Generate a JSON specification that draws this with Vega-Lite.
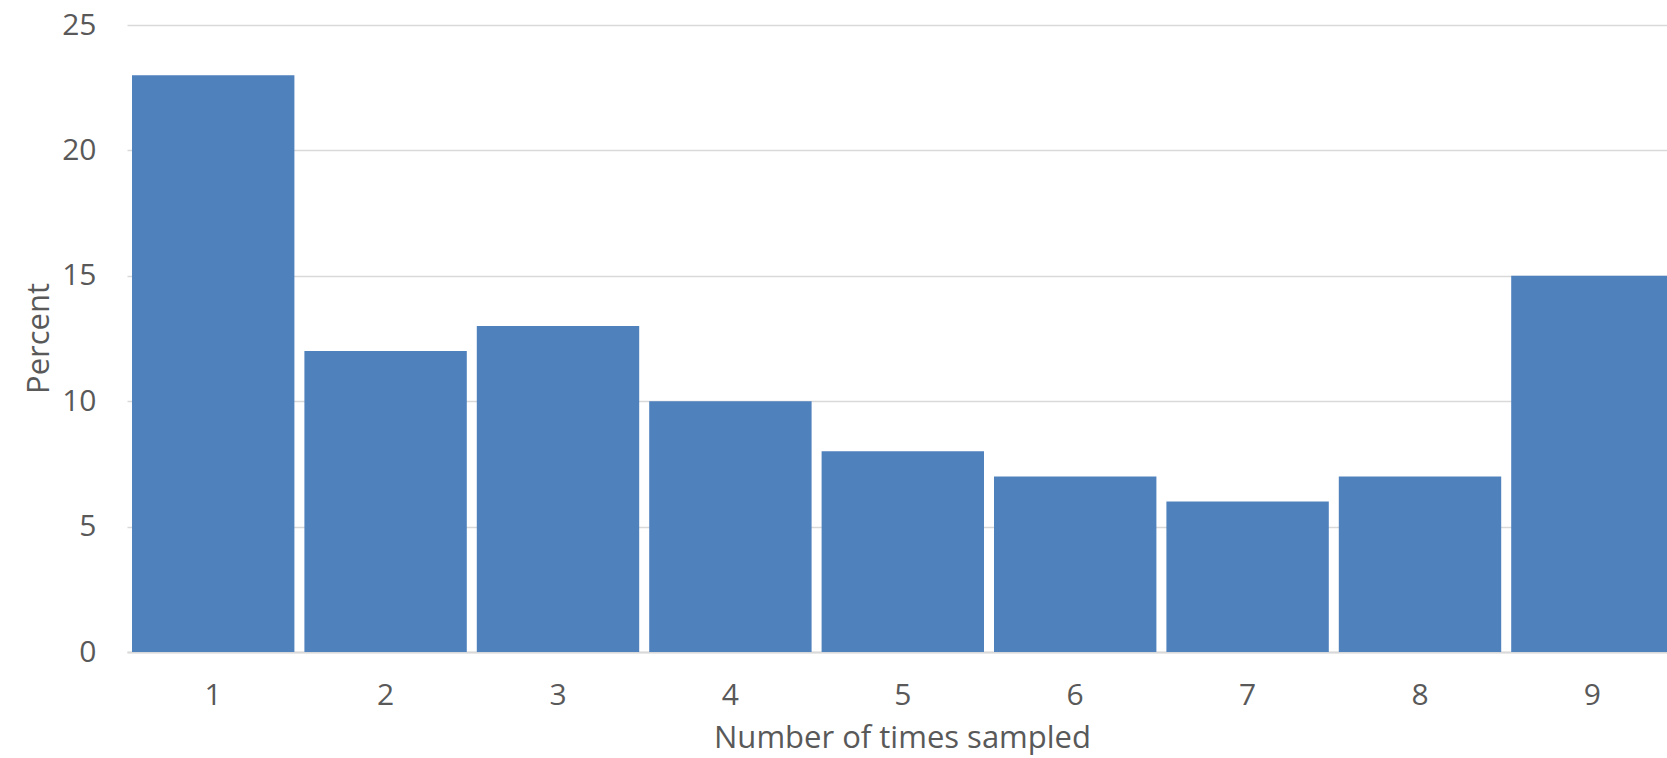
{
  "$schema": "https://vega.github.io/schema/vega-lite/v6.json",
  "autosize": "none",
  "padding": {"left": 127, "top": 25, "right": 0, "bottom": 106},
  "width": 1540,
  "height": 627,
  "background": "white",
  "config": {
    "view": {"stroke": null},
    "font": "Open Sans"
  },
  "data": {
    "values": [
      {"times": "1", "percent": 23},
      {"times": "2", "percent": 12},
      {"times": "3", "percent": 13},
      {"times": "4", "percent": 10},
      {"times": "5", "percent": 8},
      {"times": "6", "percent": 7},
      {"times": "7", "percent": 6},
      {"times": "8", "percent": 7},
      {"times": "9", "percent": 15}
    ]
  },
  "mark": {"type": "bar", "color": "#4f81bd", "clip": true},
  "encoding": {
    "x": {
      "field": "times",
      "type": "ordinal",
      "sort": null,
      "scale": {"range": [0, 1551.6], "paddingInner": 0.058, "paddingOuter": 0.029},
      "axis": {
        "title": "Number of times sampled",
        "labelAngle": 0,
        "labelFont": "Open Sans",
        "labelFontSize": 30,
        "labelColor": "#595959",
        "labelBaseline": "alphabetic",
        "labelPadding": 52,
        "ticks": false,
        "tickSize": 0,
        "domainColor": "#d9d9d9",
        "domainWidth": 2,
        "titleFont": "Open Sans",
        "titleFontSize": 31,
        "titleFontWeight": "normal",
        "titleColor": "#595959",
        "titleBaseline": "alphabetic",
        "titleAlign": "center",
        "titleX": 775,
        "titleY": 95
      }
    },
    "y": {
      "field": "percent",
      "type": "quantitative",
      "scale": {"domain": [0, 25], "nice": false},
      "axis": {
        "title": "Percent",
        "values": [0, 5, 10, 15, 20, 25],
        "labelFont": "Open Sans",
        "labelFontSize": 30,
        "labelColor": "#595959",
        "labelPadding": 31,
        "ticks": false,
        "tickSize": 0,
        "domain": false,
        "grid": true,
        "gridColor": "#d9d9d9",
        "gridWidth": 1.5,
        "titleFont": "Open Sans",
        "titleFontSize": 31,
        "titleFontWeight": "normal",
        "titleColor": "#595959",
        "titleBaseline": "alphabetic",
        "titleAlign": "center",
        "titleAngle": -90,
        "titleX": -79,
        "titleY": 313
      }
    }
  }
}
